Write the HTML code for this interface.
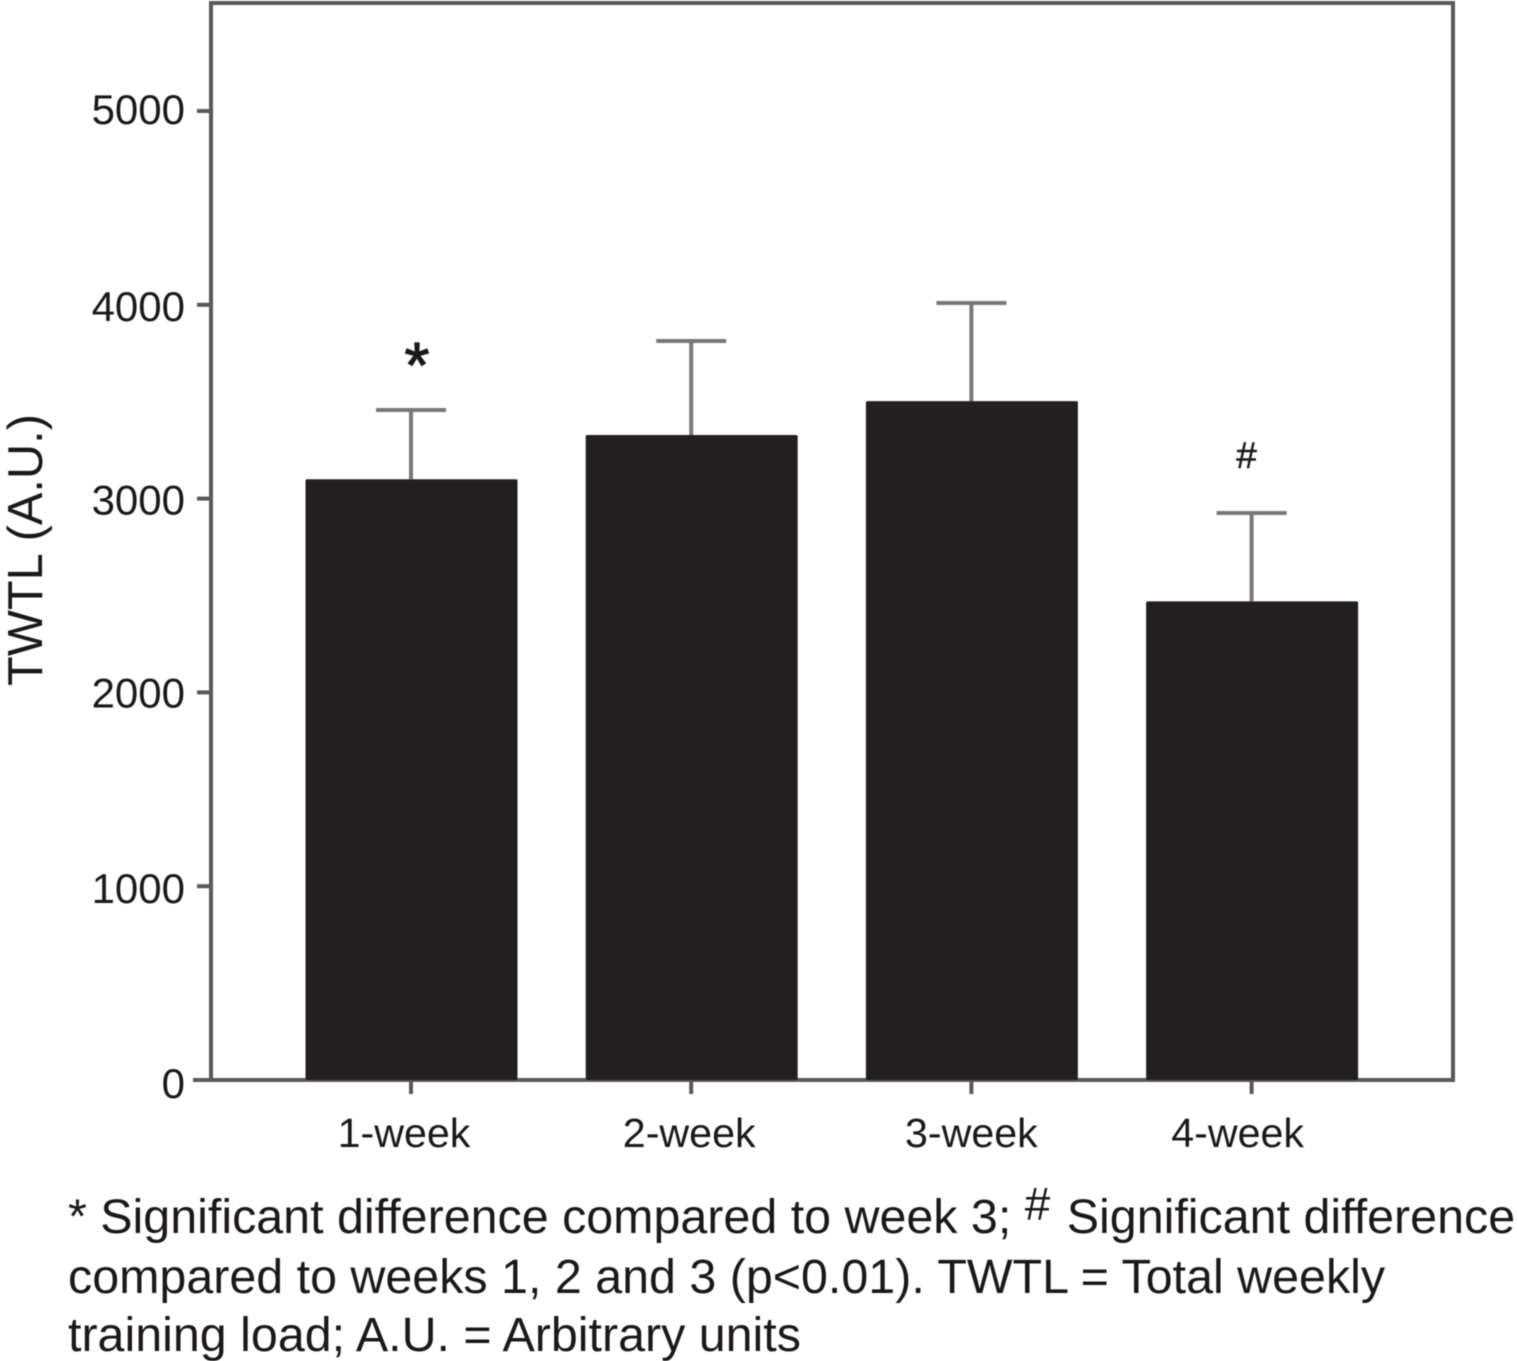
<!DOCTYPE html>
<html>
<head>
<meta charset="utf-8">
<style>
html,body{margin:0;padding:0;background:#fff;width:1517px;height:1361px;overflow:hidden}
svg{display:block;position:absolute;left:0;top:0;filter:blur(0.45px)}
text{font-family:"Liberation Sans",Arial,sans-serif;fill:#1c1819}
</style>
</head>
<body>
<svg id="chart" width="1517" height="1361" viewBox="0 0 1517 1361" xmlns="http://www.w3.org/2000/svg">
<g id="frame"></g>
<g id="errors"></g>
<g id="bars"></g>
<g id="axes"></g>
<text transform="translate(42,550) rotate(-90)" text-anchor="middle" font-size="48.8">TWTL (A.U.)</text>
<g font-size="48.4">
<text x="68" y="1233">* Significant difference compared to week 3; <tspan font-size="46" dy="-13">#</tspan><tspan dy="13" dx="3"> Significant difference</tspan></text>
<text x="68" y="1293">compared to weeks 1, 2 and 3 (p&lt;0.01). TWTL = Total weekly</text>
<text x="68" y="1351">training load; A.U. = Arbitrary units</text>
</g>
</svg>
<script>
const categories = ['1-week', '2-week', '3-week', '4-week'];
const meanValues = [3100, 3328, 3503, 2470];
const upperErrorValues = [3457, 3813, 4009, 2926];
const yTickValues = [0, 1000, 2000, 3000, 4000, 5000];
const significanceMarks = ['*', '', '', '#'];

const NS = 'http://www.w3.org/2000/svg';
const plotLeft = 211, plotRight = 1453, plotTop = 3, plotBottom = 1080;
const firstCenter = 411, bandStep = 280.2, barWidth = 212, capWidth = 70;
const labelNudge = [-7, -2, 0, -14];
function yLabelNudge(v) { return v === 5000 ? -3 : v === 2000 ? -1 : v === 1000 ? 1 : v === 0 ? 2 : 0; }
function yScale(v) { return plotBottom - v * 0.1938; }
function xScale(i) { return firstCenter + i * bandStep; }
function make(tag, attrs, parent) {
  const el = document.createElementNS(NS, tag);
  for (const k in attrs) el.setAttribute(k, attrs[k]);
  parent.appendChild(el);
  return el;
}
const frame = document.getElementById('frame');
const errors = document.getElementById('errors');
const bars = document.getElementById('bars');
const axes = document.getElementById('axes');
const axisStyle = { stroke: '#58595b', 'stroke-width': 4 };

const topLine = make('line', { x1: plotLeft, x2: plotRight, y1: plotTop, y2: plotTop, ...axisStyle }, frame);


const rightLine = make('line', { x1: plotRight, x2: plotRight, y1: plotTop - 2, y2: plotBottom, ...axisStyle }, frame);


const leftLine = make('line', { x1: plotLeft, x2: plotLeft, y1: plotTop - 2, y2: plotBottom, ...axisStyle }, frame);


const bottomLine = make('line', { x1: 193, x2: plotRight + 2, y1: plotBottom, y2: plotBottom, ...axisStyle }, frame);



categories.forEach(function (cat, i) {
  const cx = xScale(i);
  const stem = make('line', { x1: cx, x2: cx, y1: yScale(meanValues[i]), y2: yScale(upperErrorValues[i]), stroke: '#77787b', 'stroke-width': 4 }, errors);
  
  
  const cap = make('line', { x1: cx - capWidth / 2, x2: cx + capWidth / 2, y1: yScale(upperErrorValues[i]), y2: yScale(upperErrorValues[i]), stroke: '#77787b', 'stroke-width': 4 }, errors);
  
  

  const bar = make('rect', { x: cx - barWidth / 2 + 0.5, y: yScale(meanValues[i]), width: barWidth, height: plotBottom - yScale(meanValues[i]), fill: '#231f20', rx: 1.5 }, bars);
  
  

  const tick = make('line', { x1: cx, x2: cx, y1: plotBottom, y2: plotBottom + 14, stroke: '#58595b', 'stroke-width': 4 }, axes);
  
  

  const label = make('text', { x: cx + labelNudge[i], y: 1147, 'text-anchor': 'middle', 'font-size': 41.2 }, axes);
  label.textContent = cat;
  
  

  if (significanceMarks[i]) {
    const isStar = significanceMarks[i] === '*';
    const mark = make('text', { x: isStar ? cx + 6 : cx - 5, y: isStar ? 387 : 468, 'text-anchor': 'middle', 'font-size': isStar ? 64 : 37, stroke: '#1c1819', 'stroke-width': isStar ? 1.2 : 0.5 }, axes);
    mark.textContent = significanceMarks[i];
    
    
  }
});

yTickValues.forEach(function (v) {
  const y = yScale(v);
  const tick = make('line', { x1: 197, x2: plotLeft, y1: y, y2: y, stroke: '#58595b', 'stroke-width': 4 }, axes);
  
  
  const label = make('text', { x: 185, y: y + 16 + yLabelNudge(v), 'text-anchor': 'end', 'font-size': 42 }, axes);
  label.textContent = String(v);
  
  
});
</script>
</body>
</html>
